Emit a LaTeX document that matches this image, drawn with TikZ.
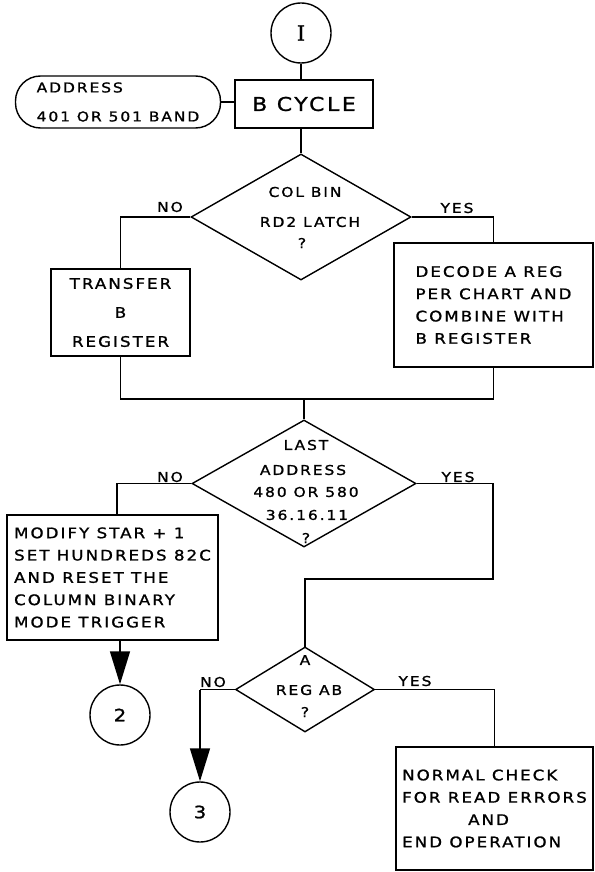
\documentclass[tikz,border=0pt]{standalone}
\usepackage{fontspec}
\setmainfont{DejaVu Sans}[LetterSpace=14,FakeStretch=1.15,FakeBold=1.2]
\newfontfamily\serifI{DejaVu Serif}[FakeBold=1]
\usetikzlibrary{shapes.geometric,arrows.meta}
\begin{document}
\begin{tikzpicture}[x=1pt,y=-1pt,
  txt/.style={font=\fontsize{14.5}{22.3}\selectfont},
  ln/.style={line width=1.4pt},
  box/.style={draw,ln,rectangle,inner sep=0pt,txt,align=left},
  conn/.style={draw,ln,circle,minimum size=60pt,inner sep=0pt,font=\fontsize{17}{17}\selectfont},
  dia/.style={draw,ln,diamond,inner sep=0pt},
  lab/.style={inner sep=0pt,font=\fontsize{13.5}{16}\selectfont},
  dlab/.style={inner sep=0pt,font=\fontsize{13.5}{16}\selectfont},
  arr/.style={ln,-{Triangle[length=33pt,width=20pt]}}
]
\useasboundingbox (0,0) rectangle (594,872);

% connector 1 and start
\node[conn] (c1) at (301,33) {\serifI\fontsize{21}{21}\selectfont I};
\node[box, minimum width=138, minimum height=48, align=center,
      font=\fontsize{19}{19}\selectfont] (bc) at (304,104) {B CYCLE};
\node[draw,ln,rectangle,rounded corners=25pt,minimum width=205,minimum height=52,
      inner sep=0pt,align=left,font=\fontsize{13.5}{29}\selectfont] (term) at (118,102)
      {ADDRESS\\401 OR 501 BAND};
\draw[ln] (c1.south) -- (c1.south |- bc.north);
\draw[ln] (term.east) -- (bc.west |- term.east);

% decision 1
\node[dia, minimum width=220, minimum height=126] (d1) at (301,217) {};
\node[dlab] (d1a) at (305,192) {COL BIN};
\node[dlab] (d1b) at (310,222) {RD2 LATCH};
\node[dlab] (d1c) at (302,243) {?};
\draw[ln] (c1.south |- bc.south) -- (d1.north);

\node[box, minimum width=139, minimum height=87, align=center,
      font=\fontsize{14.5}{29}\selectfont] (tb) at (120.5,312.5) {TRANSFER\\B\\REGISTER};
\node[box, minimum width=199, minimum height=124] (db) at (493.5,305)
      {DECODE A REG\\PER CHART AND\\COMBINE WITH\\B REGISTER};
\draw[ln] (d1.west) -| (tb.north);
\node[lab] (no1) at (170,207) {NO};
\draw[ln] (d1.east) -| (db.north);
\node[lab] (yes1) at (457,208) {YES};

\coordinate (m1) at (304,399);
\draw[ln] (tb.south) |- (m1) -| (db.south);

% decision 2
\node[dia, minimum width=224, minimum height=127] (d2) at (304,483.5) {};
\draw[ln] (m1) -- (d2.north);
\node[dlab] (d2a) at (306,445) {LAST};
\node[dlab] (d2b) at (303,470) {ADDRESS};
\node[dlab] (d2c) at (306,492) {480 OR 580};
\node[dlab] (d2d) at (307,515) {36.16.11};
\node[dlab] (d2e) at (306,538) {?};

\node[box, minimum width=211, minimum height=125] (mb) at (112.5,577.5)
      {MODIFY STAR + 1\\SET HUNDREDS 82C\\AND RESET THE\\COLUMN BINARY\\MODE TRIGGER};
\coordinate (mt) at (117,515);
\draw[ln] (d2.west) -| (mt);
\node[lab] (no2) at (170,477) {NO};
\node[conn] (c2) at (120,715) {2};
\draw[arr] (mb.south -| c2.north) -- (c2.north);

\coordinate (m2) at (493,579);
\draw[ln] (d2.east) -| (m2) -| (305,647);
\node[lab] (yes2) at (458,477) {YES};

% decision 3
\node[dia, minimum width=139, minimum height=85] (d3) at (305,689.5) {};
\node[dlab] (d3a) at (305,660) {A};
\node[dlab] (d3b) at (309,690) {REG AB};
\node[dlab] (d3c) at (305,712) {?};

\node[conn] (c3) at (200,812) {3};
\coordinate (n3) at (200,689.5);
\draw[ln] (d3.west) -- (n3);
\draw[arr] (n3) -- (c3.north);
\node[lab] (no3) at (213,682) {NO};

\node[box, minimum width=197, minimum height=123] (nb) at (494.5,808.5)
      {NORMAL CHECK\\FOR READ ERRORS\\\hspace*{66pt}AND\\END OPERATION};
\draw[ln] (d3.east) -| (nb.north);
\node[lab] (yes3) at (415,681) {YES};
\end{tikzpicture}
\end{document}
